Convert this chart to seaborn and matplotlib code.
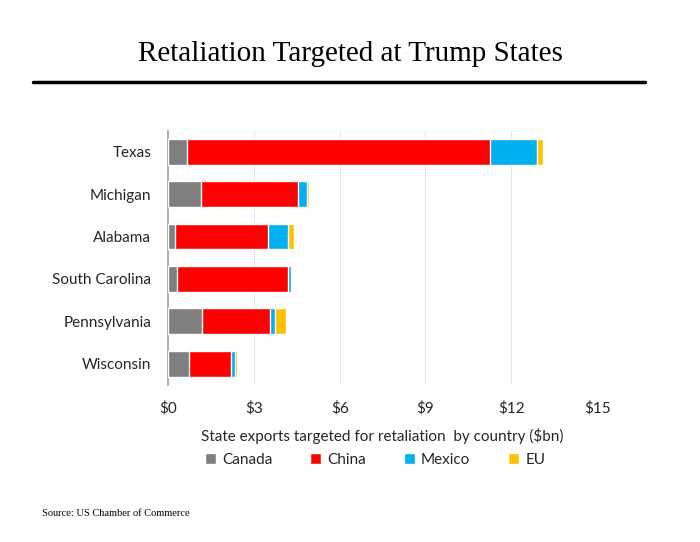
import pandas as pd
import seaborn as sns
import matplotlib.pyplot as plt
from matplotlib.patches import Patch
from matplotlib.lines import Line2D

# data ($bn)
states = ["Texas", "Michigan", "Alabama", "South Carolina", "Pennsylvania", "Wisconsin"]
canada = [0.68, 1.14, 0.26, 0.32, 1.19, 0.75]
china = [10.57, 3.40, 3.25, 3.88, 2.38, 1.44]
mexico = [1.65, 0.32, 0.69, 0.09, 0.18, 0.15]
eu = [0.20, 0.08, 0.20, 0.03, 0.36, 0.08]
countries = ["Canada", "China", "Mexico", "EU"]
colors = ["#7F7F7F", "#FF0000", "#00B0F0", "#FFC000"]
xticks = [0, 3, 6, 9, 12, 15]

df = pd.DataFrame({"state": states, "Canada": canada, "China": china,
                   "Mexico": mexico, "EU": eu})
# cumulative sums for stacking
cum = df[countries].cumsum(axis=1)
cum["state"] = df["state"]

sns.set_theme(style="white")
plt.rcParams["font.family"] = ["Lato", "DejaVu Sans"]

fig = plt.figure(figsize=(7, 5.42), dpi=100)
ax = fig.add_axes([0.24, 0.29, 0.613, 0.469])

# draw from the outermost segment inward
for c, col in reversed(list(zip(countries, colors))):
    sns.barplot(data=cum, y="state", x=c, color=col, order=states,
                width=0.61, saturation=1, ax=ax, zorder=3)

ax.set_xlim(0, 15)
ax.set_xticks(xticks)
ax.set_xticklabels([f"${t}" for t in xticks], fontsize=11, color="#262626")
ax.tick_params(axis="y", labelsize=11, labelcolor="#262626", length=0, pad=12)
ax.tick_params(axis="x", length=0, pad=12)
ax.set_ylabel("")
ax.set_xlabel("State exports targeted for retaliation  by country ($bn)",
              fontsize=11, color="#262626", labelpad=9)
ax.grid(axis="x", color="#E6E6E6", linewidth=0.8, zorder=0)
for s in ["top", "right", "bottom"]:
    ax.spines[s].set_visible(False)
ax.spines["left"].set_color("#A6A6A6")

handles = [Patch(facecolor=col, label=c) for c, col in zip(countries, colors)]
fig.legend(handles=handles, loc="center", bbox_to_anchor=(0.536, 0.151), ncol=4,
           frameon=False, fontsize=11, handlelength=0.7, handleheight=0.7,
           columnspacing=2.5, handletextpad=0.4, labelcolor="#262626")

fig.text(0.5, 0.9, "Retaliation Targeted at Trump States", ha="center",
         va="center", fontsize=21, family="Liberation Serif", color="black")
fig.add_artist(Line2D([0.047, 0.921], [0.849, 0.849], color="black",
                      linewidth=2.5, transform=fig.transFigure))
fig.text(0.06, 0.053, "Source: US Chamber of Commerce", ha="left", va="center",
         fontsize=7.5, family="Liberation Serif", color="black")

fig.savefig("out.png", dpi=100)
